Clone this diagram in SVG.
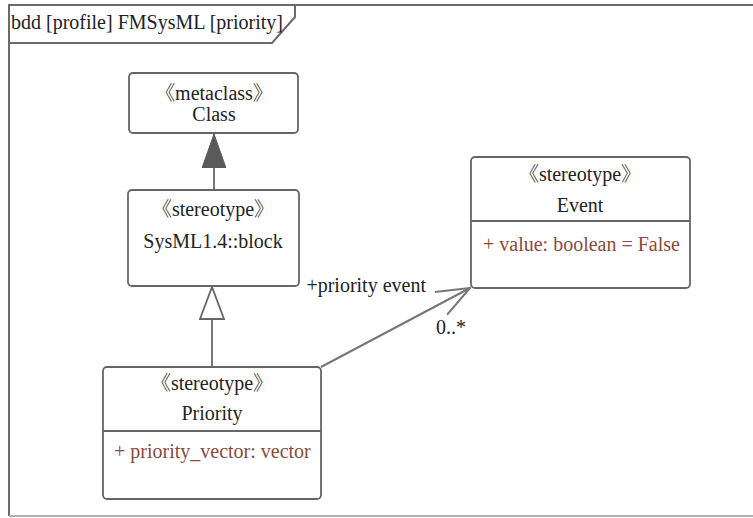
<svg xmlns="http://www.w3.org/2000/svg" width="753" height="518" viewBox="0 0 753 518">
  <style>
    .frame { fill: none; stroke: #6a6a6a; stroke-width: 2; }
    .box { fill: #ffffff; stroke: #666666; stroke-width: 1.8; }
    .sep { stroke: #666666; stroke-width: 1.8; }
    .edge { fill: none; stroke: #777777; stroke-width: 2; }
    text { font-family: "Liberation Serif", "Times New Roman", "DejaVu Serif", "Noto Serif CJK SC", "Noto Sans CJK SC", serif; font-size: 20px; fill: #222222; }
    .c { text-anchor: middle; }
    .attr { fill: #8a4a3c; }
  </style>
  <defs>
    <marker id="genFilled" viewBox="0 0 34 24" refX="34" refY="12" markerWidth="34" markerHeight="24" markerUnits="userSpaceOnUse" orient="auto">
      <path d="M0,0 L34,12 L0,24 Z" fill="#5a5a5a" stroke="#5a5a5a" stroke-width="1"/>
    </marker>
    <marker id="genHollow" viewBox="0 0 34 26" refX="33" refY="13" markerWidth="34" markerHeight="26" markerUnits="userSpaceOnUse" orient="auto">
      <path d="M1,1 L33,13 L1,25 Z" fill="#ffffff" stroke="#666666" stroke-width="1.8"/>
    </marker>
    <marker id="openArrow" viewBox="0 0 34 30" refX="33" refY="15" markerWidth="34" markerHeight="30" markerUnits="userSpaceOnUse" orient="auto">
      <path d="M0,2 L33,15 L0,28" fill="none" stroke="#777777" stroke-width="2"/>
    </marker>
  </defs>

  <rect width="753" height="518" fill="#ffffff"/>

  <!-- diagram frame and header tab -->
  <g id="frame">
    <path class="frame" d="M753,5 L9,5 L9,516"/>
    <path d="M9,516 L753,516" fill="none" stroke="#b0b0b0" stroke-width="2"/>
    <path class="frame" d="M9,43 L272,43 L295,17 L295,5"/>
    <text x="11" y="29">bdd [profile] FMSysML [priority]</text>
  </g>

  <!-- connectors -->
  <g id="connectors">
    <line class="edge" x1="214" y1="190" x2="214" y2="134" marker-end="url(#genFilled)"/>
    <line class="edge" x1="212" y1="367" x2="212" y2="287" marker-end="url(#genHollow)"/>
    <line class="edge" x1="321" y1="367" x2="470" y2="288" marker-end="url(#openArrow)"/>
    <text x="426" y="292" text-anchor="end">+priority event</text>
    <text x="436" y="334">0..*</text>
  </g>

  <g id="node-class">
    <rect class="box" x="129" y="73" width="169" height="60" rx="4"/>
    <text class="c" x="214" y="100">《metaclass》</text>
    <text class="c" x="214" y="121">Class</text>
  </g>

  <g id="node-block">
    <rect class="box" x="128" y="190" width="171" height="96" rx="4"/>
    <text class="c" x="213" y="216">《stereotype》</text>
    <text class="c" x="213" y="248">SysML1.4::block</text>
  </g>

  <g id="node-event">
    <rect class="box" x="471" y="157" width="219" height="131" rx="4"/>
    <line class="sep" x1="471" y1="221" x2="690" y2="221"/>
    <text class="c" x="580" y="181">《stereotype》</text>
    <text class="c" x="580" y="212">Event</text>
    <text class="attr" x="483" y="251">+ value: boolean = False</text>
  </g>

  <g id="node-priority">
    <rect class="box" x="103" y="367" width="218" height="132" rx="4"/>
    <line class="sep" x1="103" y1="431" x2="321" y2="431"/>
    <text class="c" x="212" y="390">《stereotype》</text>
    <text class="c" x="212" y="420">Priority</text>
    <text class="attr" x="114" y="458">+ priority_vector: vector</text>
  </g>
</svg>
